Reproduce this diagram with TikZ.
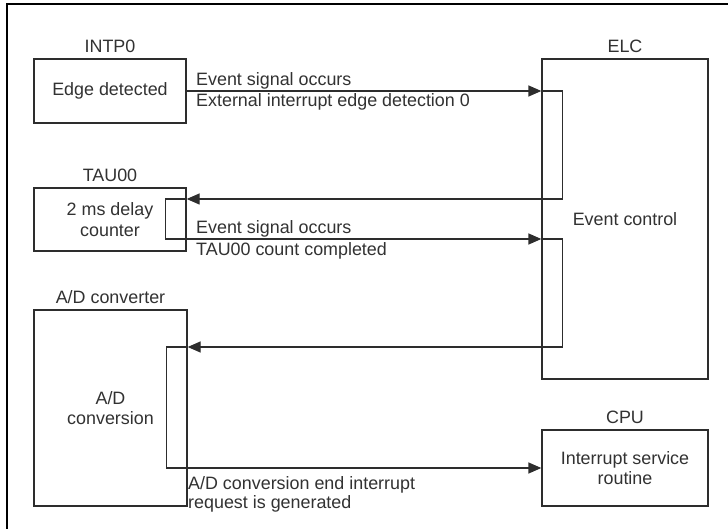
\documentclass[tikz,border=0pt]{standalone}
\usepackage{fontspec}
\setmainfont{Liberation Sans}
\usetikzlibrary{positioning, arrows.meta, calc}
\definecolor{linecolor}{RGB}{45, 45, 45}
\definecolor{textcolor}{RGB}{50, 50, 50}

\begin{document}
\begin{tikzpicture}[
    x=1pt, y=1pt,
    node distance=3pt,
    box/.style={rectangle, draw=linecolor, line width=1.3pt, align=center, text=textcolor, font=\fontsize{17.9}{20.5}\selectfont, inner sep=0pt},
    lbl/.style={font=\fontsize{17.9}{20.5}\selectfont, text=textcolor, inner sep=2pt},
    note/.style={font=\fontsize{17.9}{19}\selectfont, text=textcolor, inner sep=0pt, align=left},
    arrow/.style={-{Triangle[length=13pt, width=11pt]}, draw=linecolor, line width=1.3pt},
]

% ============ page and frame ============
\fill[white] (0,0) rectangle (728,528);
\useasboundingbox (0,0) rectangle (728,528);
\draw[black, line width=2pt] (7,524) rectangle (745,-15);

% ============ left column ============
\node[box, minimum width=152, minimum height=64] (intp) at (110,437) {Edge detected};
\node[lbl, above=of intp] (intp_lbl) {INTP0};

\node[box, minimum width=152, minimum height=63] (tau) at (110,308.5) {2 ms delay\\counter};
\node[lbl, above=of tau] (tau_lbl) {TAU00};

\node[box, minimum width=153, minimum height=196] (adc) at (110.5,120) {A/D\\conversion};
\node[lbl, above=of adc] (adc_lbl) {A/D converter};

% ============ right column ============
\node[box, minimum width=166, minimum height=320] (elc) at (625,309) {Event control};
\node[lbl, above=of elc] (elc_lbl) {ELC};

\node[box, minimum width=166, minimum height=76] (cpu) at (625,60) {Interrupt service\\routine};
\node[lbl, above=of cpu] (cpu_lbl) {CPU};

% ============ connection points ============
\coordinate (elc_a) at (intp.east -| elc.west);
\coordinate (elc_b) at ([yshift=-20]elc.west);
\coordinate (tau_in) at ([yshift=20.5]tau.east);
\coordinate (adc_in) at ([yshift=61]adc.east);

% ============ arrows ============
\draw[arrow] (intp.east) -- (elc_a);
\draw[arrow] (elc_a) -- ++(21,0) |- (tau_in);
\draw[arrow] (tau_in) -- ++(-21,0) |- (elc_b);
\draw[arrow] (elc_b) -- ++(21,0) |- (adc_in);
\draw[arrow] (adc_in) -- ++(-21,0) |- (cpu.west);

% ============ signal texts ============
\node[note, anchor=base west] (sig_intp) at (196,442) {Event signal occurs};
\node[note, anchor=base west] (src_intp) at (196,421) {External interrupt edge detection 0};
\node[note, anchor=base west] (sig_tau) at (196,294) {Event signal occurs};
\node[note, anchor=base west] (src_tau) at (196,272) {TAU00 count completed};
\node[note, anchor=north west] (src_adc) at (188,51.5) {A/D conversion end interrupt\\request is generated};

\end{tikzpicture}
\end{document}
